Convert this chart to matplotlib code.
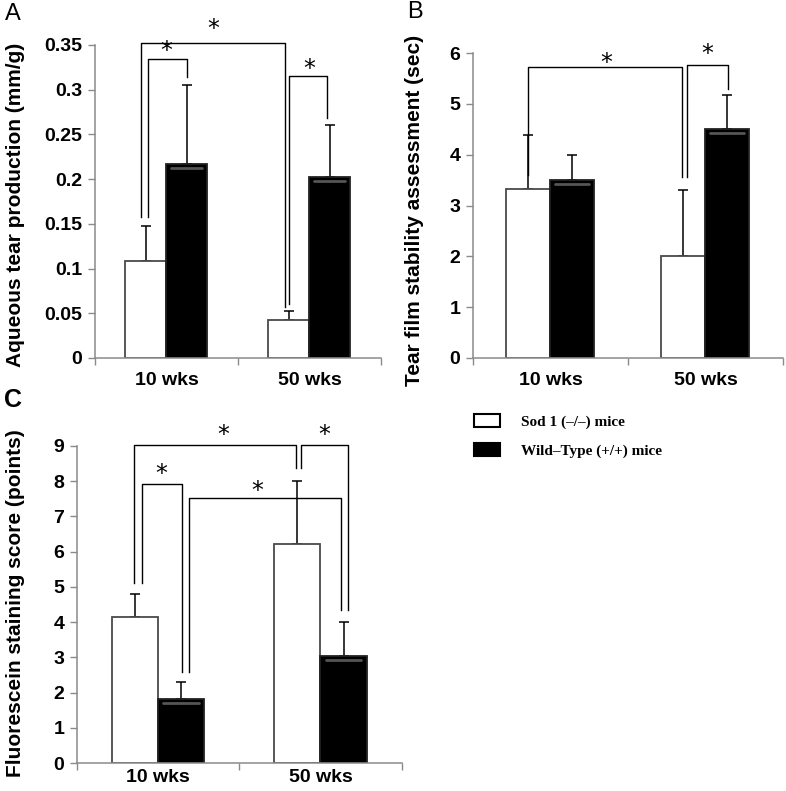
import matplotlib
matplotlib.use('Agg')
import matplotlib.pyplot as plt
import numpy as np
from matplotlib.patches import Patch
from matplotlib.ticker import FuncFormatter

groups = ['10 wks', '50 wks']
series = ['Sod 1 (\u2013/\u2013) mice', 'Wild\u2013Type (+/+) mice']

# panel A: aqueous tear production
tear_sod = [0.109, 0.043]
tear_sod_err = [0.039, 0.010]
tear_wt = [0.217, 0.202]
tear_wt_err = [0.088, 0.059]

# panel B: tear film stability
tbut_sod = [3.32, 2.00]
tbut_sod_err = [1.06, 1.30]
tbut_wt = [3.50, 4.50]
tbut_wt_err = [0.50, 0.68]

# panel C: fluorescein staining
fl_sod = [4.15, 6.22]
fl_sod_err = [0.65, 1.78]
fl_wt = [1.82, 3.03]
fl_wt_err = [0.48, 0.97]

W, H = 786, 791
fig = plt.figure(figsize=(W / 100, H / 100), dpi=100)
plt.rcParams['font.family'] = ['Liberation Sans', 'DejaVu Sans']

grey = '#8a8a8a'
bw = 0.285
centres = np.array([0.5, 1.5])
xs_sod = centres - 0.145
xs_wt = centres + 0.14


def ax_px(l, r, b, t):
    return fig.add_axes([l / W, 1 - b / H, (r - l) / W, (b - t) / H])


def draw(ax, sod, sod_err, wt, wt_err, ymax, step, xpad=10):
    ax.bar(xs_sod, sod, bw, color='white', edgecolor='#4a4a4a', linewidth=1.3, zorder=2)
    ax.bar(xs_wt, wt, bw, color='black', edgecolor='#222222', linewidth=1.3, zorder=2)
    # shine strip near the top of black bars
    for x, v in zip(xs_wt, wt):
        ax.plot([x - bw * 0.38, x + bw * 0.38], [v - ymax * 0.012] * 2,
                color='#555555', lw=2.0, zorder=3, solid_capstyle='round')
    ax.errorbar(xs_sod, sod, yerr=[np.zeros(2), sod_err], fmt='none', ecolor='black',
                elinewidth=1.1, capsize=3.5, capthick=1.1, zorder=1)
    ax.errorbar(xs_wt, wt, yerr=[np.zeros(2), wt_err], fmt='none', ecolor='black',
                elinewidth=1.1, capsize=3.5, capthick=1.1, zorder=1)
    ax.set_xlim(0, 2)
    ax.set_ylim(0, ymax)
    ax.set_yticks(np.arange(0, ymax + step / 2, step))
    ax.yaxis.set_major_formatter(FuncFormatter(lambda v, p: '{:g}'.format(round(v, 3))))
    ax.set_xticks([0, 1, 2])
    ax.set_xticklabels([])
    ax.set_xticks(centres, minor=True)
    ax.set_xticklabels(groups, minor=True, fontsize=14, fontweight='bold')
    ax.tick_params(axis='x', which='minor', length=0, pad=xpad)
    ax.tick_params(axis='x', which='major', length=5, color=grey, width=1)
    ax.tick_params(axis='y', length=5, color=grey, width=1, labelsize=14, pad=4)
    for lab in ax.get_yticklabels():
        lab.set_fontweight('bold')
    for s in ['top', 'right']:
        ax.spines[s].set_visible(False)
    for s in ['left', 'bottom']:
        ax.spines[s].set_color(grey)
        ax.spines[s].set_linewidth(1.1)
    ax.patch.set_alpha(0)


def bracket(ax, x1, x2, y1, top, y2, sx, sy, fs=17):
    ax.plot([x1, x1, x2, x2], [y1, top, top, y2], color='black', lw=1.0, clip_on=False)
    ax.text(sx, sy, '*', ha='center', va='center', fontsize=fs,
            family='DejaVu Sans', clip_on=False)


# A
axA = ax_px(95, 381, 358, 45)
draw(axA, tear_sod, tear_sod_err, tear_wt, tear_wt_err, 0.35, 0.05)
bracket(axA, 0.32, 1.33, 0.158, 0.352, 0.057, 0.83, 0.368)
bracket(axA, 0.37, 0.64, 0.158, 0.334, 0.314, 0.50, 0.343)
bracket(axA, 1.36, 1.62, 0.060, 0.315, 0.268, 1.50, 0.323)
fig.text(16 / W, 1 - 205 / H, 'Aqueous tear production (mm/g)', rotation=90,
         ha='center', va='center', fontsize=15, fontweight='bold')
fig.text(5 / W, 1 - 14 / H, 'A', fontsize=17, ha='left', va='center')

# B
axB = ax_px(473, 783, 358, 53)
draw(axB, tbut_sod, tbut_sod_err, tbut_wt, tbut_wt_err, 6, 1)
bracket(axB, 0.355, 1.35, 3.60, 5.72, 3.56, 0.86, 5.80)
bracket(axB, 1.38, 1.645, 3.56, 5.76, 5.30, 1.51, 5.98)
fig.text(414 / W, 1 - 210 / H, 'Tear film stability assessment (sec)', rotation=90,
         ha='center', va='center', fontsize=15, fontweight='bold')
fig.text(407 / W, 1 - 12 / H, 'B', fontsize=17, ha='left', va='center')

# C
axC = ax_px(77, 402, 763, 446)
draw(axC, fl_sod, fl_sod_err, fl_wt, fl_wt_err, 9, 1, xpad=4)
bracket(axC, 0.35, 1.35, 5.11, 9.03, 8.38, 0.90, 9.30)
bracket(axC, 1.38, 1.67, 8.38, 9.03, 4.35, 1.52, 9.30)
bracket(axC, 0.40, 0.646, 5.11, 7.93, 2.58, 0.52, 8.20)
bracket(axC, 0.69, 1.625, 2.58, 7.53, 4.35, 1.11, 7.72)
fig.text(16 / W, 1 - 603 / H, 'Fluorescein staining score (points)', rotation=90,
         ha='center', va='center', fontsize=15, fontweight='bold')
fig.text(4 / W, 1 - 400 / H, 'C', fontsize=18, fontweight='bold', ha='left', va='center')

# legend
handles = [Patch(facecolor='white', edgecolor='black', linewidth=1.5),
           Patch(facecolor='black', edgecolor='black', linewidth=1.5)]
fig.legend(handles, series, loc='upper left', bbox_to_anchor=(460 / W, 1 - 400 / H),
           frameon=False, prop={'family': 'Liberation Serif', 'weight': 'bold', 'size': 11},
           handlelength=1.7, handleheight=0.95, handletextpad=1.4, labelspacing=0.9)

fig.savefig('out.png', dpi=100)
